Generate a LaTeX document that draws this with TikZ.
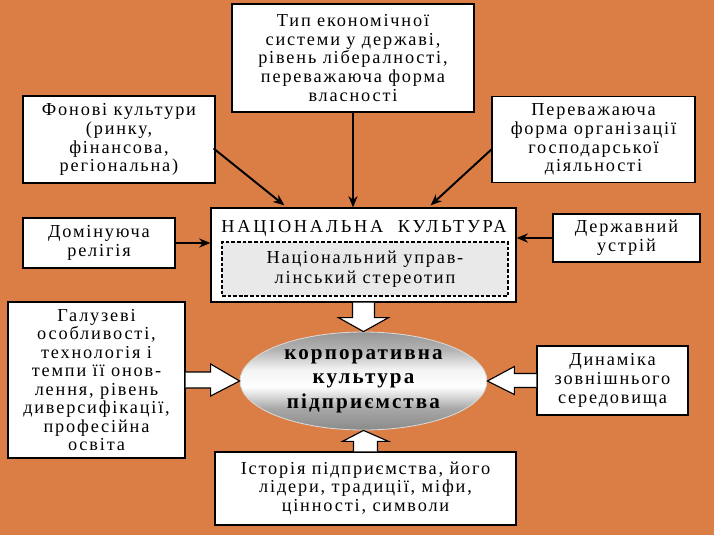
\documentclass[tikz,border=0pt]{standalone}
\usepackage{fontspec}
\setmainfont{Liberation Serif}
\newfontfamily\boxfont[LetterSpace=10]{Liberation Serif}
\newfontfamily\titlefont[LetterSpace=15]{Liberation Serif}
\usetikzlibrary{positioning,calc,arrows.meta,shapes.geometric}
\definecolor{ink}{HTML}{000000}
\definecolor{bgorange}{HTML}{DB7E46}
\definecolor{stereofill}{HTML}{E9E9E9}
\definecolor{corpgray}{HTML}{8A8A8A}
\pgfdeclareverticalshading{corpshade}{100bp}{color(0bp)=(corpgray); color(25bp)=(corpgray);
  color(36bp)=(corpgray!75); color(47bp)=(white); color(56bp)=(white!95!black);
  color(66bp)=(corpgray!65); color(75bp)=(corpgray!90); color(100bp)=(corpgray!90)}

\begin{document}
\begin{tikzpicture}[x=0.25mm, y=-0.25mm,
    factor/.style={draw=ink, line width=0.9pt, fill=white, align=center, inner sep=0pt,
      font=\boxfont\fontsize{13}{13.4}\selectfont, text=ink},
    title/.style={font=\titlefont\fontsize{13}{13.4}\selectfont, text=ink, inner sep=0pt},
    stereo/.style={draw=ink, line width=1.5pt, dash pattern=on 2.6pt off 1.4pt, fill=stereofill,
      align=center, inner sep=0pt, minimum width=71.5mm, minimum height=13.5mm,
      font=\boxfont\fontsize{13}{14}\selectfont, text=ink},
    core/.style={ellipse, draw=white!85!black, line width=0.6pt, shading=corpshade,
      align=center, inner sep=0pt, minimum width=61.75mm, minimum height=24.5mm,
      font=\boxfont\bfseries\fontsize{15}{17.5}\selectfont, text=ink},
    flow/.style={-{Stealth[length=8pt,width=6.5pt]}, line width=1.4pt, draw=ink},
    fat/.style={draw=ink, fill=white, line width=0.8pt, line join=miter},
  ]

  % ------------------------------------------------------------- background
  \path[fill=white] (0,0) rectangle (720,540);
  \fill[bgorange] (0,0) rectangle (714,535);

  % ------------------------------------------------------------ outer boxes
  \node[factor, minimum width=60.5mm, minimum height=27mm] (econ) at (353,58)
    {Тип економічної\\системи у державі,\\рівень лібералності,\\переважаюча форма\\власності};
  \node[factor, minimum width=48mm, minimum height=21.75mm] (bgcult) at (119,139.5)
    {Фонові культури\\(ринку,\\фінансова,\\регіональна)};
  \node[factor, minimum width=50.75mm, minimum height=21.5mm] (orgform) at (593.5,139.5)
    {Переважаюча\\форма організації\\господарської\\діяльності};
  \node[factor, minimum width=38mm, minimum height=12.5mm] (religion) at (99,243)
    {Домінуюча\\релігія};
  \node[factor, minimum width=36.75mm, minimum height=12mm] (state) at (626.5,238)
    {Державний\\устрій};
  \node[factor, minimum width=44.25mm, minimum height=39mm,
        font=\boxfont\fontsize{13}{13.1}\selectfont] (industry) at (96.5,380)
    {Галузеві\\особливості,\\технологія і\\темпи її онов-\\лення, рівень\\диверсифікації,\\професійна\\освіта};
  \node[factor, minimum width=37.75mm, minimum height=17.25mm] (dynamics) at (612.5,380.5)
    {Динаміка\\зовнішнього\\середовища};
  \node[factor, minimum width=75.25mm, minimum height=18.25mm] (history) at (365.5,488.5)
    {Історія підприємства, його\\лідери, традиції, міфи,\\цінності, символи};

  % ---------------------------------------------------------- national box
  \node[factor, minimum width=76.25mm, minimum height=23.5mm] (nat) at (363.5,255) {};
  \node[title] (nattitle) at (364,228) {НАЦІОНАЛЬНА\ \ КУЛЬТУРА};
  \node[stereo] (stereotype) at (365,269) {Національний управ-\\лінський стереотип};

  % ----------------------------------------------------------------- core
  \node[core] (corp) at (363.5,381) {корпоративна\\культура\\підприємства};

  % ----------------------------------------------------------- thin arrows
  \draw[flow] ($(bgcult.east)+(-2,9)$) -- ($(nat.north west)+(74,-2)$);
  \draw[flow] (econ.south) -- (econ.south |- nat.north);
  \draw[flow] ($(orgform.west)+(0,10)$) -- ($(nat.north east)+(-86,-2)$);
  \draw[flow] (religion.east) -- (religion.east -| nat.west);
  \draw[flow] (state.west) -- (state.west -| nat.east);

  % ------------------------------------------------------------ fat arrows
  \filldraw[fat] ($(nat.south)+(-11,0)$) -- ($(nat.south)+(-11,15)$) -- ($(nat.south)+(-25,15)$)
    -- (corp.north) -- ($(nat.south)+(25,15)$) -- ($(nat.south)+(11,15)$) -- ($(nat.south)+(11,0)$);
  \filldraw[fat] ($(industry.east)+(0,-8)$) -- ($(industry.east)+(25,-8)$) -- ($(industry.east)+(25,-16)$)
    -- (corp.west) -- ($(industry.east)+(25,16)$) -- ($(industry.east)+(25,8)$) -- ($(industry.east)+(0,8)$);
  \filldraw[fat] ($(dynamics.west)+(0,-7)$) -- ($(dynamics.west)+(-22,-7)$) -- ($(dynamics.west)+(-22,-14)$)
    -- (corp.east) -- ($(dynamics.west)+(-22,14)$) -- ($(dynamics.west)+(-22,7)$) -- ($(dynamics.west)+(0,7)$);
  \filldraw[fat] ($(history.north)+(-12,0)$) -- ($(history.north)+(-12,-10)$) -- ($(history.north)+(-23,-10)$)
    -- (corp.south) -- ($(history.north)+(23,-10)$) -- ($(history.north)+(12,-10)$) -- ($(history.north)+(12,0)$);
\end{tikzpicture}
\end{document}
